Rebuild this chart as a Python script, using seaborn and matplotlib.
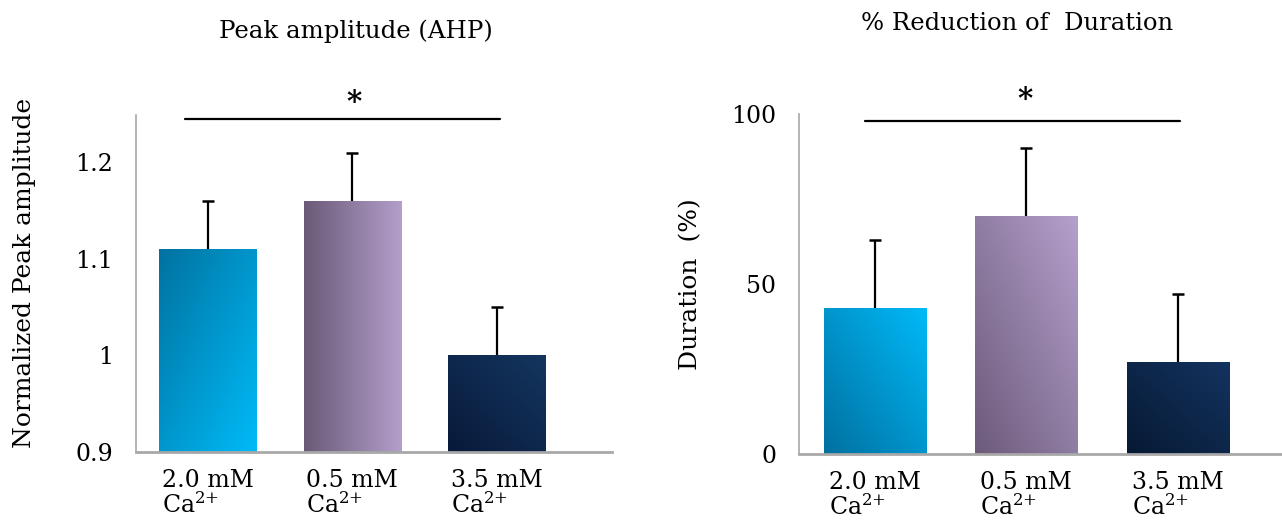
import numpy as np
import pandas as pd
import matplotlib
matplotlib.use("Agg")
import matplotlib.pyplot as plt
from matplotlib.colors import to_rgb
import seaborn as sns

# ---- data ----
conditions = ["2.0 mM\nCa$^{2{+}}$", "0.5 mM\nCa$^{2{+}}$", "3.5 mM\nCa$^{2{+}}$"]
peak_amp = [1.11, 1.16, 1.00]
peak_err = [0.05, 0.05, 0.05]
dur_reduction = [43, 70, 27]
dur_err = [20, 20, 20]

# gradient colours per bar: (start, end, direction)
left_grad = [("#0072a0", "#00bbf8", "tl"),
             ("#6a5977", "#b39fcb", "h"),
             ("#08193a", "#14365f", "bl")]
right_grad = [("#0070a0", "#00baf8", "bl"),
              ("#6c5a7a", "#b4a0cc", "bl"),
              ("#061933", "#14335f", "bl")]

sns.set_style("white")
plt.rcParams["font.family"] = ["DejaVu Serif"]
plt.rcParams["mathtext.default"] = "regular"
for key in ("text.color", "axes.labelcolor", "xtick.color", "ytick.color"):
    plt.rcParams[key] = "black"

AXIS_GREY = "#a8a8a8"
W, H = 1282, 523
fig = plt.figure(figsize=(W / 100, H / 100), dpi=100)


def ax_rect(x0, x1, ytop, ybot):
    return [x0 / W, 1 - ybot / H, (x1 - x0) / W, (ybot - ytop) / H]


def gradient_fill(ax, patch, c0, c1, mode, ybottom):
    x0, w = patch.get_x(), patch.get_width()
    y0 = max(patch.get_y(), ybottom)
    y1 = patch.get_y() + patch.get_height()
    n = 256
    u = np.linspace(0, 1, n)[None, :]
    v = np.linspace(1, 0, n)[:, None]  # row 0 is the top of the bar
    if mode == "h":
        t = u + 0 * v
    elif mode == "tl":
        t = (u + (1 - v)) / 2
    else:
        t = (u + v) / 2
    a, b = np.array(to_rgb(c0)), np.array(to_rgb(c1))
    img = a + t[..., None] * (b - a)
    im = ax.imshow(img, extent=(x0, x0 + w, y0, y1), origin="upper",
                   aspect="auto", interpolation="bilinear", zorder=2.5)
    im.set_clip_path(patch)


def draw_panel(ax, values, errs, grads, ylim, yticks, yticklabels, xlim,
               sig_x, sig_y, star_xy, label_size):
    df = pd.DataFrame({"cond": conditions, "val": values})
    sns.barplot(data=df, x="cond", y="val", hue="cond", legend=False,
                palette=[g[1] for g in grads], errorbar=None, width=0.675,
                ax=ax, zorder=2, linewidth=0)
    bars = sorted(ax.patches, key=lambda p: p.get_x())
    centers = []
    for p, (c0, c1, mode) in zip(bars, grads):
        gradient_fill(ax, p, c0, c1, mode, ylim[0])
        centers.append(p.get_x() + p.get_width() / 2)
    eb = ax.errorbar(centers, values, yerr=[np.zeros(len(errs)), errs],
                     fmt="none", ecolor="black", elinewidth=1.6,
                     capsize=4.3, capthick=1.8, zorder=3)
    eb.lines[1][0].set_visible(False)

    ax.set_ylim(*ylim)
    ax.set_xlim(*xlim)
    ax.set_yticks(yticks)
    ax.set_yticklabels(yticklabels)
    ax.set_xlabel("")
    ax.set_ylabel("")
    ax.tick_params(axis="y", which="major", direction="out", length=6.5,
                   width=1, color=AXIS_GREY, labelcolor="black",
                   labelsize=label_size, pad=10)
    ax.tick_params(axis="x", length=0, labelsize=label_size,
                   labelcolor="black", pad=12)
    for lab in ax.get_xticklabels():
        lab.set_multialignment("left")
        lab.set_linespacing(1.05)
    sns.despine(ax=ax)
    ax.spines["left"].set_color(AXIS_GREY)
    ax.spines["left"].set_linewidth(1.2)
    ax.spines["bottom"].set_color(AXIS_GREY)
    ax.spines["bottom"].set_linewidth(2)

    # significance bracket
    ax.plot(sig_x, [sig_y, sig_y], color="black", lw=1.6, clip_on=False,
            zorder=4)
    ax.text(star_xy[0], star_xy[1], "*", ha="center", va="center",
            fontsize=21, fontweight="bold", color="black", clip_on=False)


# left panel: normalized peak amplitude
ax1 = fig.add_axes(ax_rect(136, 612, 115, 452))
draw_panel(ax1, peak_amp, peak_err, left_grad,
           ylim=(0.9, 1.249), yticks=[0.9, 1.0, 1.1, 1.2],
           yticklabels=["0.9", "1", "1.1", "1.2"], xlim=(-0.5, 2.80),
           sig_x=[-0.163, 2.025], sig_y=1.245, star_xy=(1.01, 1.262),
           label_size=17)

# right panel: % reduction of duration
ax2 = fig.add_axes(ax_rect(799, 1282, 114, 454))
draw_panel(ax2, dur_reduction, dur_err, right_grad,
           ylim=(0, 100), yticks=[0, 50, 100],
           yticklabels=["0", "50", "100"], xlim=(-0.5, 2.686),
           sig_x=[-0.066, 2.013], sig_y=97.9, star_xy=(0.99, 104.2),
           label_size=17)

# titles and axis labels
fig.text(356 / W, 1 - 31 / H, "Peak amplitude (AHP)", ha="center",
         va="center", fontsize=17.6)
fig.text(1017 / W, 1 - 24 / H, "% Reduction of  Duration", ha="center",
         va="center", fontsize=17.5)
fig.text(25 / W, 1 - 273 / H, "Normalized Peak amplitude", ha="center",
         va="center", rotation=90, fontsize=17.9)
fig.text(691 / W, 1 - 284 / H, "Duration  (%)", ha="center",
         va="center", rotation=90, fontsize=18)

fig.savefig("out.png", dpi=100)
